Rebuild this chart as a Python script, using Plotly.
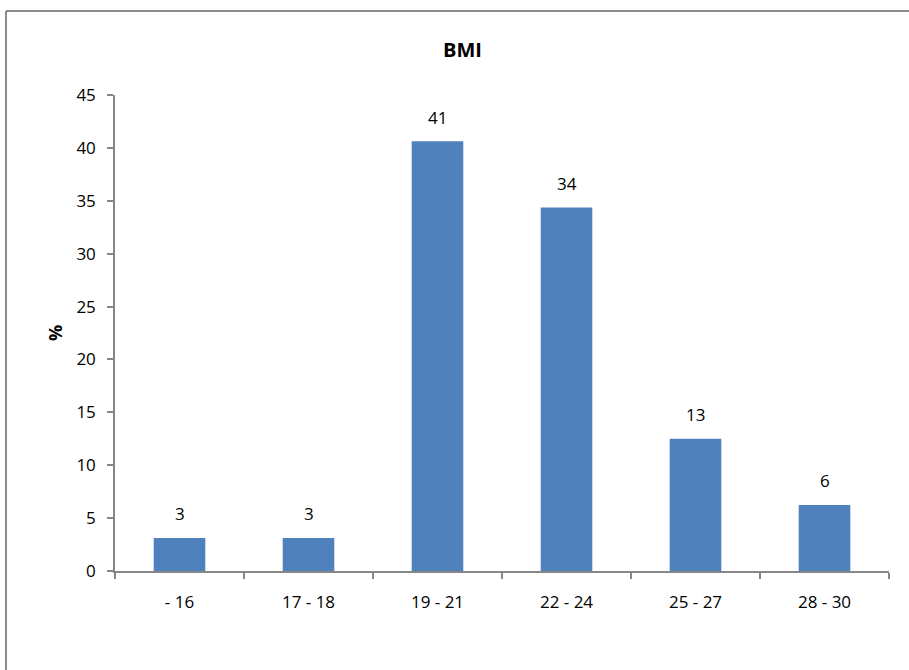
import math
import plotly.graph_objects as go

categories = ["- 16", "17 - 18", "19 - 21", "22 - 24", "25 - 27", "28 - 30"]
values = [3.125, 3.125, 40.625, 34.375, 12.5, 6.25]
y_ticks = [0, 5, 10, 15, 20, 25, 30, 35, 40, 45]

W, H = 909, 670
L, R, T, B = 115, 20, 95, 99
pw = W - L - R
ph = H - T - B

FONT = "Open Sans, Liberation Sans, sans-serif"
AX = "#868686"
FS = 17

fig = go.Figure()
fig.add_trace(go.Bar(
    x=categories, y=values, width=0.4,
    marker=dict(color="#4F81BD", line=dict(width=0)),
    hoverinfo="skip",
))

for c, v in zip(categories, values):
    fig.add_annotation(x=c, y=v, text=str(int(math.floor(v + 0.5))),
                       showarrow=False, yanchor="middle", yshift=24,
                       font=dict(family=FONT, size=FS, color="black"))

def px_x(p):
    return (p - L) / pw

def px_y(p):
    return (H - B - p) / ph

# chart border (left and top visible)
fig.add_shape(type="line", xref="paper", yref="paper",
              x0=px_x(6), x1=px_x(6), y0=px_y(11), y1=px_y(700),
              line=dict(color="#8c8c8c", width=2))
fig.add_shape(type="line", xref="paper", yref="paper",
              x0=px_x(6), x1=px_x(940), y0=px_y(11), y1=px_y(11),
              line=dict(color="#8c8c8c", width=2))

fig.add_annotation(text="<b>BMI</b>", xref="paper", yref="paper",
                   x=px_x(462), y=px_y(50), showarrow=False,
                   xanchor="center", yanchor="middle",
                   font=dict(family=FONT, size=20, color="black"))

fig.add_annotation(text="<b>%</b>", xref="paper", yref="paper",
                   x=px_x(55), y=px_y(333), showarrow=False, textangle=-90,
                   xanchor="center", yanchor="middle",
                   font=dict(family=FONT, size=18, color="black"))

fig.update_layout(
    width=W, height=H,
    margin=dict(l=L, r=R, t=T, b=B, pad=0),
    paper_bgcolor="white", plot_bgcolor="white",
    showlegend=False,
    font=dict(family=FONT, size=FS, color="black"),
    xaxis=dict(
        type="category", showgrid=False, showline=True, linecolor=AX, linewidth=1.5,
        ticks="outside", ticklen=6, tickcolor=AX, tickwidth=1.5,
        tickson="boundaries", tickfont=dict(family=FONT, size=FS, color="black"),
        ticklabelstandoff=15,
        range=[-0.5, len(categories) - 0.5], zeroline=False,
    ),
    yaxis=dict(
        range=[0, 45], tickvals=y_ticks, showgrid=False, zeroline=False,
        showline=True, linecolor=AX, linewidth=1.5,
        ticks="outside", ticklen=6, tickcolor=AX, tickwidth=1.5,
        tickfont=dict(family=FONT, size=FS, color="black"),
        ticklabelstandoff=8,
    ),
)

fig.write_html("out.html")
